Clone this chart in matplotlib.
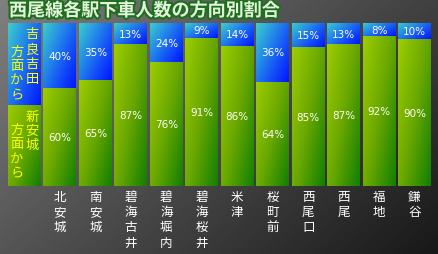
import numpy as np
from matplotlib import pyplot as plt
from matplotlib import patheffects as pe
from matplotlib import font_manager
from matplotlib.colors import LinearSegmentedColormap

title = "西尾線各駅下車人数の方向別割合"
stations = ["北安城", "南安城", "碧海古井", "碧海堀内", "碧海桜井", "米津",
            "桜町前", "西尾口", "西尾", "福地", "鎌谷"]
from_kira = [40, 35, 13, 24, 9, 14, 36, 15, 13, 8, 10]          # 吉良吉田方面から
from_shinanjo = [60, 65, 87, 76, 91, 86, 64, 85, 87, 92, 90]    # 新安城方面から
legend_kira = "吉良吉田"
legend_shin = "新安城"
legend_dir = "方面から"

jp = "Noto Sans CJK JP"
names = {f.name for f in font_manager.fontManager.ttflist}
num_font = "Liberation Sans Narrow" if "Liberation Sans Narrow" in names else "DejaVu Sans"
num_size = 9 if num_font != "DejaVu Sans" else 7.5

blues = LinearSegmentedColormap.from_list("b", ["#3dcccc", "#2590e6", "#1450f8", "#0018ff"])
greens = LinearSegmentedColormap.from_list("g", ["#9ccc00", "#6aa800", "#138000"])
greys = LinearSegmentedColormap.from_list("bg", ["#808080", "#4a4a4a", "#181818"])

fig = plt.figure(figsize=(4.39, 2.55), dpi=100)

# background
bg = fig.add_axes([0, 0, 1, 1])
bg.set_axis_off()
yy, xx = np.mgrid[0:1:256j, 0:1:440j]
bg.imshow(xx * 0.6 + yy * 0.4, cmap=greys, aspect="auto", extent=[0, 1, 0, 1],
          origin="upper")

ax = fig.add_axes([8 / 439, 68 / 255, 423 / 439, 163 / 255])
ax.set_axis_off()

w = 0.93
x = np.arange(len(stations) + 1)
lower = [50] + from_shinanjo
upper = [50] + from_kira
gbars = ax.bar(x, lower, width=w, color="none", edgecolor="none")
bbars = ax.bar(x, upper, bottom=lower, width=w, color="none", edgecolor="none")


def fill(bars, cmap):
    v, u = np.mgrid[0:1:60j, 0:1:20j]
    grad = 0.55 * u + 0.45 * v
    for r in bars:
        x0, y0 = r.get_x(), r.get_y()
        ax.imshow(grad, cmap=cmap, aspect="auto", origin="upper",
                  extent=[x0, x0 + r.get_width(), y0, y0 + r.get_height()],
                  clip_path=r, zorder=1)


fill(gbars, greens)
fill(bbars, blues)
ax.set_xlim(-w / 2, len(stations) + w / 2)
ax.set_ylim(0, 100)

# percentages
for i in range(1, len(x)):
    ax.text(x[i], lower[i] / 2, f"{lower[i]}%", ha="center", va="center",
            color="white", fontsize=num_size, family=num_font, zorder=3)
    ax.text(x[i], lower[i] + upper[i] / 2, f"{upper[i]}%", ha="center", va="center",
            color="white", fontsize=num_size, family=num_font, zorder=3)


def vtext(s, xy, dx, dy, step, color, size=9, xycoords="data"):
    for k, ch in enumerate(s):
        ax.annotate(ch, xy=xy, xycoords=xycoords, xytext=(dx, -(dy + k * step)),
                    textcoords="offset points", ha="center", va="center",
                    color=color, fontsize=size, family=jp, zorder=3,
                    annotation_clip=False)


# station names
for i, name in enumerate(stations, start=1):
    vtext(name, (x[i], 0), 0, 7.4, 11.0, "white", xycoords=ax.get_xaxis_transform())

# legend column
vtext(legend_kira, (0, 100), 5.4, 7.9, 10.8, "#ffff00", size=9.5)
vtext(legend_dir, (0, 100), -5.4, 20.2, 10.4, "#ffff00", size=9.5)
vtext(legend_shin, (0, 50), 5.4, 8.3, 10.3, "#ffff00", size=9.5)
vtext(legend_dir, (0, 50), -5.4, 17.6, 10.5, "#ffff00", size=9.5)

fig.text(9 / 439, 1 - 11.5 / 255, title, fontsize=13, fontweight="bold", family=jp,
         color="#e2f5da", va="center", ha="left",
         path_effects=[pe.withStroke(linewidth=3, foreground="#1f6e1f")])

fig.savefig("out.png", dpi=100)
